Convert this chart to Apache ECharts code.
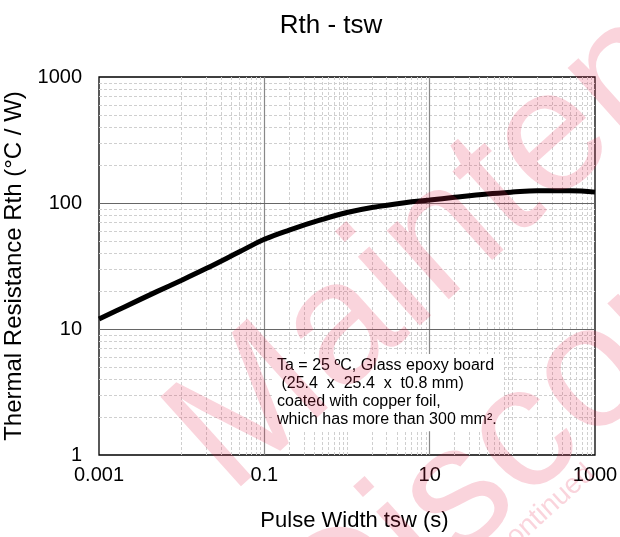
<!DOCTYPE html>
<html>
<head>
<meta charset="utf-8">
<script src="https://cdn.jsdelivr.net/npm/echarts@6/dist/echarts.min.js"></script>
<style>
html,body{margin:0;padding:0;background:#fff;}
#main{width:620px;height:537px;}
</style>
</head>
<body>
<div id="main"></div>
<script>
// pulse width (s) and thermal resistance (°C/W)
var tsw = [0.001, 0.002, 0.005, 0.01, 0.02, 0.05, 0.1, 0.2, 0.5, 1, 2, 5, 10, 20, 50, 100, 200, 500, 1000];
var rth = [12, 14.9, 19.8, 24.4, 30.3, 41, 51.5, 61, 74, 84, 92, 100.5, 105.5, 111, 118, 122, 125, 125, 122];

var xTickLabels = ['0.001', '0.01', '0.1', '1', '10', '100', '1000'];
var yTickLabels = ['1', '10', '100', '1000'];
var xMajor = [0.1, 10];
var yMajor = [10, 100];
var note = 'Ta = 25 ºC, Glass epoxy board\n (25.4  x  25.4  x  t0.8 mm)\ncoated with copper foil,\nwhich has more than 300 mm².';

var font = 'Liberation Sans, Arial, sans-serif';
var pink = 'rgba(230,40,80,0.2)';

// minor grid at 2..9 of every decade
var xMinor = [], yMinor = [];
for (var d = -3; d < 3; d++) {
	for (var k = 2; k <= 9; k++) {
		xMinor.push(+(k * Math.pow(10, d)).toPrecision(3));
		if (d >= 0) yMinor.push(k * Math.pow(10, d));
	}
}
var minorStyle = {color: '#cfcfcf', width: 1, type: [3, 2]};
var gridLines = [];
xMinor.forEach(function(v) { gridLines.push({xAxis: v, lineStyle: minorStyle}); });
[0.01, 1, 100].forEach(function(v) { gridLines.push({xAxis: v, lineStyle: minorStyle}); });
yMinor.forEach(function(v) { gridLines.push({yAxis: v, lineStyle: minorStyle}); });
xMajor.forEach(function(v) { gridLines.push({xAxis: v, lineStyle: {color: '#888', width: 1.2, type: 'solid'}}); });
yMajor.forEach(function(v) { gridLines.push({yAxis: v, lineStyle: {color: '#666', width: 1, type: 'solid'}}); });

var data = tsw.map(function(x, i) { return [x, rth[i]]; });

var myChart = echarts.init(document.getElementById('main'));
var option = {
	animation: false,
	backgroundColor: '#fff',
	title: {
		text: 'Rth - tsw',
		left: 326,
		top: 8,
		textAlign: 'center',
		textStyle: {fontFamily: font, fontWeight: 'normal', fontSize: 26, color: '#000'}
	},
	grid: {
		left: 99, right: 25, top: 77, bottom: 82,
		outerBoundsMode: 'none', containLabel: false,
		show: true, borderColor: '#000', borderWidth: 1.3, z: 5
	},
	xAxis: {
		type: 'log',
		logBase: 10,
		min: 0.001,
		max: 1000,
		name: 'Pulse Width tsw (s)',
		nameLocation: 'middle',
		nameGap: 55,
		nameTextStyle: {fontFamily: font, fontSize: 22, color: '#000', padding: [0, 0, 0, 15]},
		axisLine: {show: false},
		axisTick: {show: false},
		splitLine: {show: false},
		axisLabel: {
			fontFamily: font, fontSize: 20, color: '#000', margin: 10,
			formatter: function(v) {
				var e = Math.round(Math.log10(v));
				return (e + 3) % 2 === 0 ? xTickLabels[e + 3] : '';
			}
		}
	},
	yAxis: {
		type: 'log',
		logBase: 10,
		min: 1,
		max: 1000,
		name: 'Thermal Resistance Rth (°C / W)',
		nameLocation: 'middle',
		nameGap: 67,
		nameTextStyle: {fontFamily: font, fontSize: 24, color: '#000'},
		axisLine: {show: false},
		axisTick: {show: false},
		splitLine: {show: false},
		axisLabel: {
			fontFamily: font, fontSize: 20, color: '#000', margin: 17,
			formatter: function(v) { return yTickLabels[Math.round(Math.log10(v))]; }
		}
	},
	graphic: [
		{
			type: 'text', left: 274, top: 354, z: 20,
			style: {
				text: note, font: '16px ' + font, fill: '#000', lineHeight: 18.3,
				backgroundColor: '#fff', padding: [2, 6, 2, 3]
			}
		},
		{
			type: 'text', x: 198, y: 460, rotation: 0.733, z: 100, silent: true,
			style: {text: 'Maintenance', font: '175px ' + font, fill: pink, verticalAlign: 'middle'}
		},
		{
			type: 'text', x: 303, y: 637, rotation: 0.733, z: 100, silent: true,
			style: {text: 'Discontinued', font: '175px ' + font, fill: pink, verticalAlign: 'middle'}
		},
		{
			type: 'text', x: 470, y: 578, rotation: 0.733, z: 100, silent: true,
			style: {text: 'Discontinued', font: '28px ' + font, fill: pink, verticalAlign: 'middle'}
		}
	],
	series: [{
		type: 'line',
		data: data,
		smooth: 0.4,
		symbol: 'none',
		z: 10,
		lineStyle: {color: '#000', width: 5},
		markLine: {
			silent: true,
			symbol: 'none',
			label: {show: false},
			animation: false,
			data: gridLines
		}
	}]
};
myChart.setOption(option);
</script>
</body>
</html>
